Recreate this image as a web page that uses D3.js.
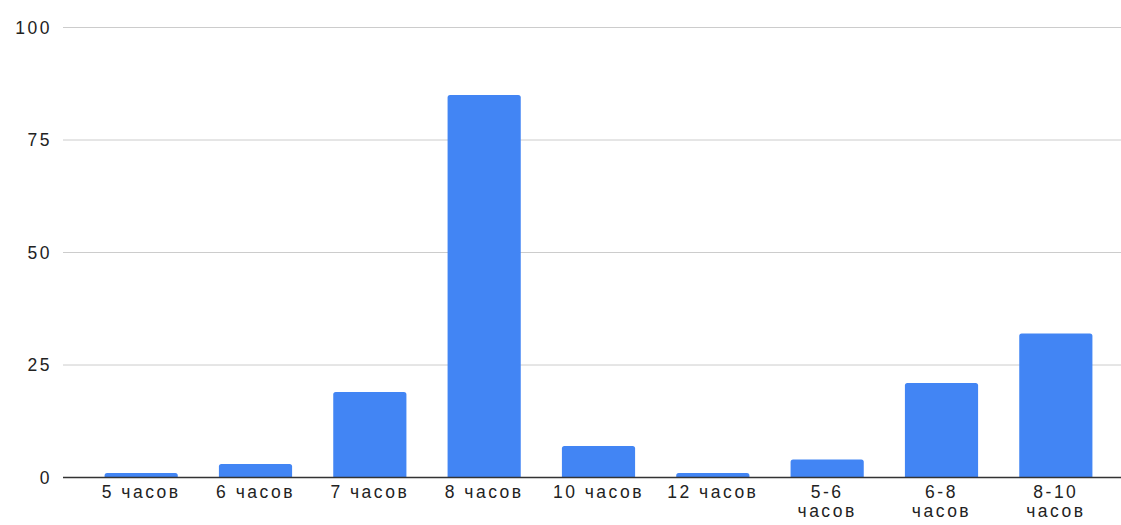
<!DOCTYPE html>
<html>
<head>
<meta charset="utf-8">
<script src="https://cdn.jsdelivr.net/npm/d3@7"></script>
<style>
  html, body { margin: 0; padding: 0; background: #fff; }
  svg { display: block; }
  text { font-family: "Liberation Sans", Arial, sans-serif; }
</style>
</head>
<body>
<svg id="chart" width="1121" height="525"></svg>
<script>
const categories = ["5 часов", "6 часов", "7 часов", "8 часов", "10 часов", "12 часов", "5-6 часов", "6-8 часов", "8-10 часов"];
const values = [1, 3, 19, 85, 7, 1, 4, 21, 32];
const yTicks = [0, 25, 50, 75, 100];

const W = 1121, H = 525;
const svg = d3.select("#chart");

const x = d3.scaleBand().domain(categories).range([84, 1113]).paddingInner(0.36).paddingOuter(0.18);
const y = d3.scaleLinear().domain([0, 100]).range([477.5, 27.5]);

const gridLeft = 63, gridRight = W;
const FS = 17.5, LS = "2.5px";

// gridlines
svg.append("g").selectAll("line").data(yTicks.filter(d => d !== 0)).join("line")
  .attr("x1", gridLeft).attr("x2", gridRight)
  .attr("y1", d => y(d)).attr("y2", d => y(d))
  .attr("stroke", "#cccccc").attr("stroke-width", 1);

// y labels
const yAxis = d3.axisLeft(y).tickValues(yTicks).tickSize(0).tickPadding(0);
const yg = svg.append("g").attr("transform", "translate(52,0)").call(yAxis);
yg.select(".domain").remove();
yg.selectAll("text").attr("fill", "#222").attr("font-size", FS).style("letter-spacing", LS);

// bars with rounded top corners
const r = 2.5;
svg.append("g").selectAll("path").data(values).join("path")
  .attr("fill", "#4285f4")
  .attr("d", (d, i) => {
    const x0 = x(categories[i]), w = x.bandwidth();
    const y0 = y(d), yb = y(0);
    const rr = Math.min(r, (yb - y0));
    return `M${x0},${yb} L${x0},${y0 + rr} Q${x0},${y0} ${x0 + rr},${y0} L${x0 + w - rr},${y0} Q${x0 + w},${y0} ${x0 + w},${y0 + rr} L${x0 + w},${yb} Z`;
  });

// baseline
svg.append("line").attr("x1", gridLeft).attr("x2", gridRight)
  .attr("y1", y(0)).attr("y2", y(0))
  .attr("stroke", "#333").attr("stroke-width", 1.5);

// x axis labels (range labels wrap onto two lines)
const xAxis = d3.axisBottom(x).tickSize(0).tickPadding(0);
const xg = svg.append("g").attr("transform", "translate(0,498)").call(xAxis);
xg.select(".domain").remove();
xg.selectAll("text").attr("fill", "#222").attr("font-size", FS).attr("dy", 0)
  .style("letter-spacing", LS)
  .each(function(d) {
    const t = d3.select(this);
    if (d.includes("-")) {
      const words = d.split(" ");
      t.text(null);
      words.forEach((w, k) => {
        t.append("tspan").attr("x", 0).attr("dy", k === 0 ? 0 : 19).text(w);
      });
    }
  });
</script>
</body>
</html>
